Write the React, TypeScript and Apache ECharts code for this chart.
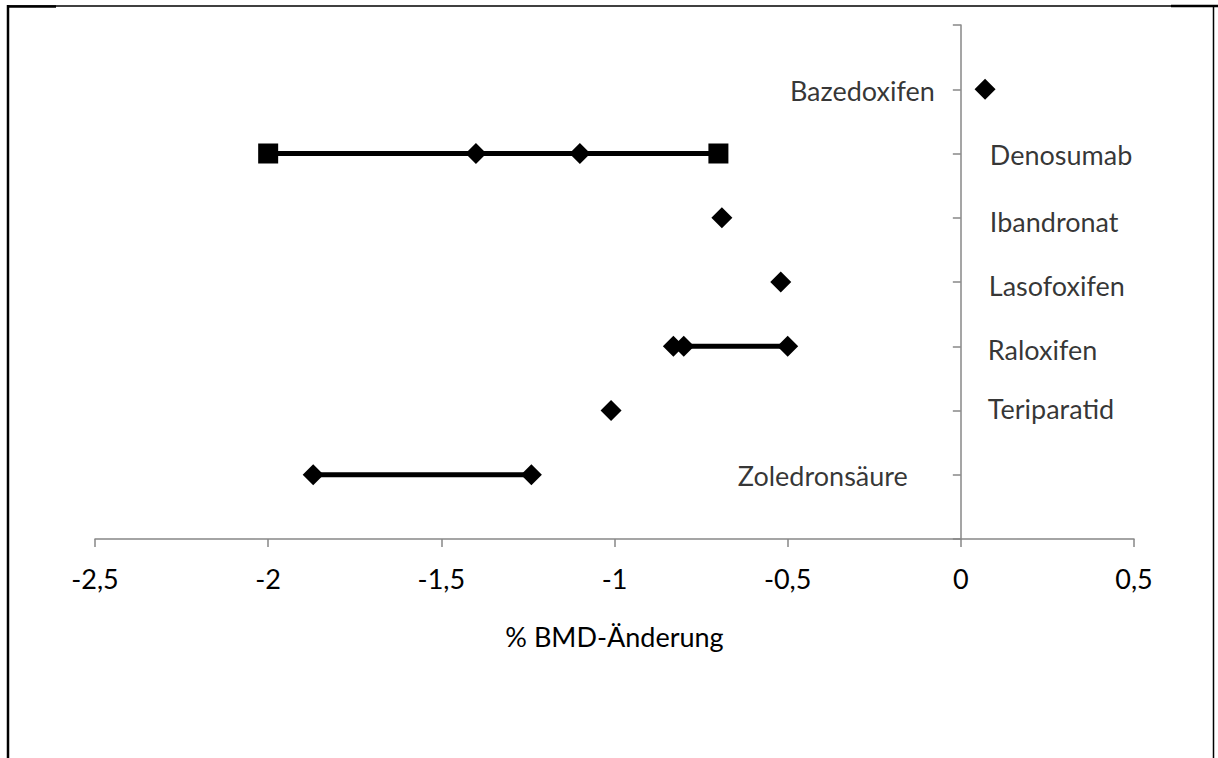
import React, { useEffect, useRef } from "react";
import * as echarts from "echarts";

// Drugs, one per row, top to bottom
const categories = [
  "Bazedoxifen",
  "Denosumab",
  "Ibandronat",
  "Lasofoxifen",
  "Raloxifen",
  "Teriparatid",
  "Zoledronsäure",
];
// Row position of each drug on the vertical value axis
const rowPositions = [7, 6, 5, 4, 3, 2, 1];
// % BMD change values drawn as diamonds
const diamondValues: number[][] = [
  [0.07],
  [-1.4, -1.1],
  [-0.69],
  [-0.52],
  [-0.83, -0.8, -0.5],
  [-1.01],
  [-1.87, -1.24],
];
// % BMD change values drawn as squares (range ends)
const squareValues: number[][] = [[], [-2.0, -0.7], [], [], [], [], []];

// x-axis scale
const xMin = -2.5;
const xMax = 0.5;
const xStep = 0.5;
const xAxisTitle = "% BMD-Änderung";

// Where each drug name sits relative to the zero line
const labelLayout = [
  { position: "left", distance: 26, dy: 1 },
  { position: "right", distance: 29, dy: 1 },
  { position: "right", distance: 29, dy: 4 },
  { position: "right", distance: 28, dy: 3 },
  { position: "right", distance: 27, dy: 3 },
  { position: "right", distance: 27, dy: -2 },
  { position: "left", distance: 53, dy: 1 },
];

const FONT = "Lato";
const FONT_SIZE = 27;
const AXIS_GREY = "#878787";

export default function App() {
  const ref = useRef<HTMLDivElement>(null);

  useEffect(() => {
    if (!ref.current) return;
    const chart = echarts.init(ref.current, null, { renderer: "svg" });

    const rangeSeries = categories
      .map((name, i) => {
        const all = [...diamondValues[i], ...squareValues[i]];
        if (all.length < 2) return null;
        return {
          type: "line",
          name: name + " range",
          data: [
            [Math.min(...all), rowPositions[i]],
            [Math.max(...all), rowPositions[i]],
          ],
          symbol: "none",
          lineStyle: { color: "#000", width: 5 },
          z: 2,
          silent: true,
        };
      })
      .filter(Boolean);

    const diamonds: number[][] = [];
    const squares: number[][] = [];
    categories.forEach((_, i) => {
      diamondValues[i].forEach((v) => diamonds.push([v, rowPositions[i]]));
      squareValues[i].forEach((v) => squares.push([v, rowPositions[i]]));
    });

    const nameLabels = categories.map((name, i) => ({
      name,
      value: [0, rowPositions[i]],
      label: {
        show: true,
        position: labelLayout[i].position,
        distance: labelLayout[i].distance,
        offset: [0, labelLayout[i].dy],
        formatter: "{b}",
        color: "#000",
        fontFamily: FONT,
        fontSize: FONT_SIZE,
      },
    }));

    chart.setOption({
      animation: false,
      backgroundColor: "#fff",
      textStyle: { fontFamily: FONT },
      grid: { left: 95, right: 84, top: 25, bottom: 219, containLabel: false },
      xAxis: {
        type: "value",
        min: xMin,
        max: xMax,
        interval: xStep,
        name: xAxisTitle,
        nameLocation: "middle",
        nameGap: 84,
        nameTextStyle: { color: "#000", fontFamily: FONT, fontSize: FONT_SIZE },
        axisLine: { show: true, onZero: false, lineStyle: { color: AXIS_GREY, width: 1.5 } },
        axisTick: { show: true, length: 8, lineStyle: { color: AXIS_GREY, width: 1.5 } },
        splitLine: { show: false },
        axisLabel: {
          color: "#000",
          fontFamily: FONT,
          fontSize: FONT_SIZE,
          margin: 26,
          formatter: (v: number) => String(v).replace(".", ","),
        },
      },
      yAxis: {
        type: "value",
        min: 0,
        max: 8,
        interval: 1,
        axisLine: { show: true, onZero: true, lineStyle: { color: AXIS_GREY, width: 1.5 } },
        axisTick: { show: true, length: 8, lineStyle: { color: AXIS_GREY, width: 1.5 } },
        axisLabel: { show: false },
        splitLine: { show: false },
      },
      series: [
        ...rangeSeries,
        {
          type: "scatter",
          name: "diamonds",
          data: diamonds,
          symbol: "diamond",
          symbolSize: 21,
          itemStyle: { color: "#000", opacity: 1 },
          z: 3,
          silent: true,
        },
        {
          type: "scatter",
          name: "squares",
          data: squares,
          symbol: "rect",
          symbolSize: 20,
          itemStyle: { color: "#000", opacity: 1 },
          z: 3,
          silent: true,
        },
        {
          type: "scatter",
          name: "labels",
          data: nameLabels,
          symbolSize: 0,
          itemStyle: { color: "transparent" },
          z: 4,
          silent: true,
        },
      ],
      graphic: [
        // outer frame
        { type: "line", shape: { x1: 8, y1: 6, x2: 1214, y2: 6 }, style: { stroke: "#000", lineWidth: 1.5 } },
        { type: "line", shape: { x1: 7, y1: 6.5, x2: 56, y2: 6.5 }, style: { stroke: "#000", lineWidth: 2.5 } },
        { type: "line", shape: { x1: 1171, y1: 6, x2: 1218, y2: 6 }, style: { stroke: "#000", lineWidth: 2.5 } },
        { type: "line", shape: { x1: 8, y1: 5, x2: 8, y2: 758 }, style: { stroke: "#000", lineWidth: 2.5 } },
        { type: "line", shape: { x1: 1213.5, y1: 5, x2: 1213.5, y2: 758 }, style: { stroke: "#000", lineWidth: 1.5 } },
      ],
    });

    return () => chart.dispose();
  }, []);

  return (
    <div
      ref={ref}
      style={{ position: "fixed", left: 0, top: 0, width: 1218, height: 758, background: "#fff" }}
    />
  );
}
